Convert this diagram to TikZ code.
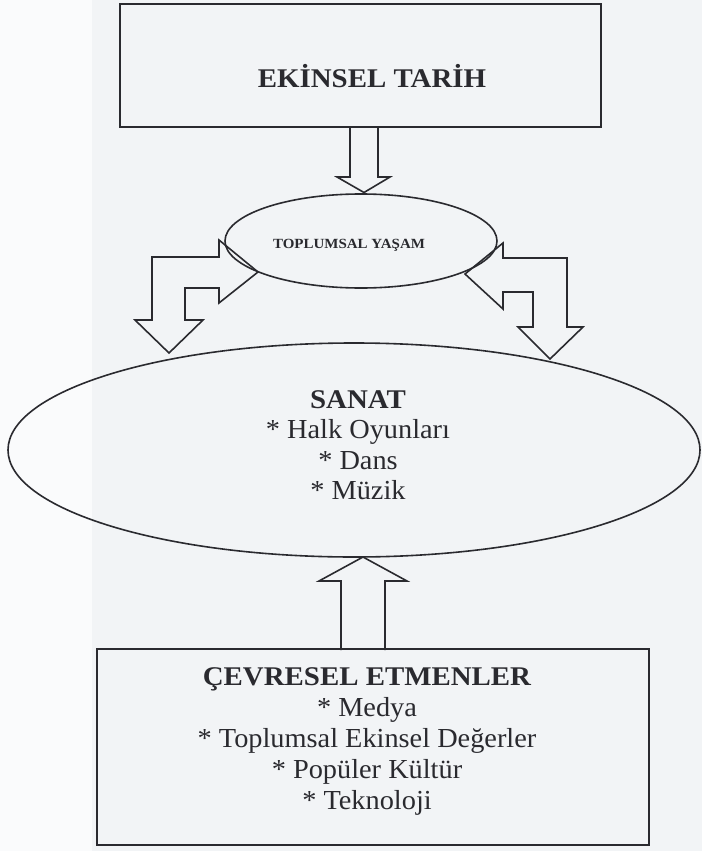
\documentclass[tikz,border=0pt]{standalone}
\usepackage{fontspec}
\setmainfont{Liberation Serif}
\newfontfamily\regf{Liberation Serif}[FakeStretch=1.03]
\newfontfamily\boldf{Liberation Serif}[FakeStretch=1.07]
\usetikzlibrary{shapes.geometric}
\definecolor{ink}{HTML}{2A2A2F}
\definecolor{paper}{HTML}{F2F4F6}
\definecolor{paperL}{HTML}{FAFBFC}
\tikzset{
  shapeline/.style={draw=ink, line width=1.6pt},
  boxshape/.style={shapeline, rectangle, inner sep=0pt},
  ovalshape/.style={shapeline, ellipse, inner sep=0pt},
  blockarrow/.style={shapeline, line join=miter},
  titletext/.style={inner sep=0pt, text=ink, font=\boldf\bfseries\fontsize{27}{31}\selectfont},
  listtext/.style={inner sep=0pt, text=ink, align=center},
}
\begin{document}
\begin{tikzpicture}[x=1pt,y=-1pt]
\fill[paper] (0,0) rectangle (702,851);
\fill[paperL] (0,0) rectangle (92,851);
\useasboundingbox (0,0) rectangle (702,851);

% shapes
\node[boxshape, minimum width=481pt, minimum height=123pt] (tarih) at (360.5,65.5) {};
\node[ovalshape, minimum width=272pt, minimum height=94pt] (toplum) at (361,241) {};
\node[ovalshape, minimum width=692pt, minimum height=214pt] (sanat) at (354,450) {};
\node[boxshape, minimum width=552pt, minimum height=196pt] (cevre) at (373,747) {};

% texts
\node[titletext, anchor=base] (tarihtxt) at (372,87) {EKİNSEL TARİH};
\node[inner sep=0pt, text=ink, anchor=base, font=\boldf\bfseries\fontsize{14}{16}\selectfont] (toplumtxt) at (349,248) {TOPLUMSAL YAŞAM};
\node[listtext, font=\regf\fontsize{27.5}{30.5}\selectfont] (sanattxt) at (358,445) {{\boldf\bfseries\fontsize{27}{30.5}\selectfont SANAT}\\* Halk Oyunları\\* Dans\\* Müzik};
\node[listtext, font=\regf\fontsize{27.5}{31}\selectfont] (cevretxt) at (367,741) {{\boldf\bfseries\fontsize{27}{31}\selectfont ÇEVRESEL ETMENLER}\\* Medya\\* Toplumsal Ekinsel Değerler\\* Popüler Kültür\\* Teknoloji};

% block arrows
\draw[blockarrow] (350,127) -- (350,177) -- (337,177) -- (364,192.5) -- (390,177) -- (378,177) -- (378,127);
\draw[blockarrow] (152,257) -- (219,257) -- (219,240) -- (258,272) -- (219,303) -- (219,288) -- (185,288) -- (185,320) -- (203,320) -- (169,353) -- (135,320) -- (152,320) -- cycle;
\draw[blockarrow] (567,258) -- (503,258) -- (503,243) -- (465,274) -- (503,309) -- (503,292) -- (533,292) -- (533,327) -- (518,327) -- (550,359) -- (583,327) -- (567,327) -- cycle;
\draw[blockarrow] (341,650) -- (341,581) -- (319,581) -- (363,557) -- (407,581) -- (385,581) -- (385,650);
\end{tikzpicture}
\end{document}
